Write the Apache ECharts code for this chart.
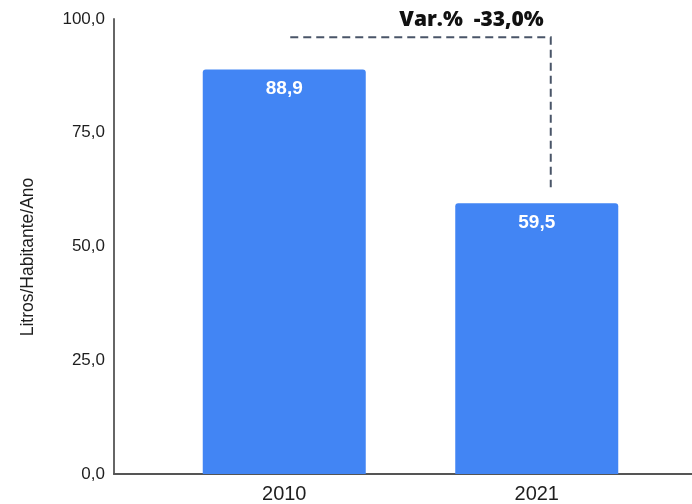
<!DOCTYPE html>
<html>
<head>
<meta charset="utf-8">
<script src="https://cdn.jsdelivr.net/npm/echarts@6/dist/echarts.min.js"></script>
<style>
  html, body { margin: 0; padding: 0; background: #ffffff; }
  #chart { width: 692px; height: 504px; }
</style>
</head>
<body>
<div id="chart"></div>
<script>
// Consumo per capita (litros por habitante por ano)
const years = ['2010', '2021'];
const litros = [88.9, 59.5];
const yTicks = [0, 25, 50, 75, 100];
const variacaoTexto = 'Var.%  -33,0%';
const nivelAnotacao = 96;   // altura da linha tracejada, em litros
const fimAnotacao = 63;     // ponta inferior da linha vertical

const fmt = v => v.toFixed(1).replace('.', ',');
const fontBase = '"Liberation Sans", Arial, Helvetica, sans-serif';

const chart = echarts.init(document.getElementById('chart'), null, { renderer: 'canvas' });

const option = {
  backgroundColor: '#ffffff',
  animation: false,
  grid: [
    // frame with axes
    { left: 114, right: 0, top: 19, bottom: 30 },
    // bars
    { left: 158, width: 505, top: 19, bottom: 30 }
  ],
  xAxis: [
    {
      gridIndex: 0, type: 'category', data: [''],
      axisLine: { show: true, lineStyle: { color: '#555555', width: 2 } },
      axisTick: { show: false }, axisLabel: { show: false }, splitLine: { show: false }
    },
    {
      gridIndex: 1, type: 'category', data: years,
      axisLine: { show: false }, axisTick: { show: false },
      axisLabel: { color: '#1e1e1e', fontSize: 20, fontFamily: fontBase, margin: 10 }
    }
  ],
  yAxis: [
    {
      gridIndex: 0, type: 'value', min: yTicks[0], max: yTicks[yTicks.length - 1], interval: 25,
      name: 'Litros/Habitante/Ano', nameLocation: 'middle', nameGap: 77,
      nameTextStyle: { color: '#1e1e1e', fontSize: 17.5, fontFamily: fontBase, padding: [0, 21, 0, 0] },
      axisLine: { show: true, lineStyle: { color: '#666666', width: 2 } },
      axisTick: { show: false }, splitLine: { show: false },
      axisLabel: { color: '#1e1e1e', fontSize: 17, fontFamily: fontBase, margin: 9, formatter: v => fmt(v) }
    },
    {
      gridIndex: 1, type: 'value', min: yTicks[0], max: yTicks[yTicks.length - 1], show: false
    }
  ],
  series: [
    {
      type: 'bar', xAxisIndex: 1, yAxisIndex: 1,
      data: litros,
      barWidth: 163,
      itemStyle: { color: '#4285f4', borderRadius: [3, 3, 0, 0] },
      label: {
        show: true, position: 'insideTop', distance: 10,
        color: '#ffffff', fontWeight: 'bold', fontSize: 19, fontFamily: fontBase,
        formatter: p => fmt(p.value)
      }
    }
  ]
};

chart.setOption(option);

// dashed comparison line and variation text, placed from the data
function drawAnnotation() {
  const pA = chart.convertToPixel({ xAxisIndex: 1, yAxisIndex: 1 }, [years[0], nivelAnotacao]);
  const pB = chart.convertToPixel({ xAxisIndex: 1, yAxisIndex: 1 }, [years[1], nivelAnotacao]);
  const pC = chart.convertToPixel({ xAxisIndex: 1, yAxisIndex: 1 }, [years[1], fimAnotacao]);
  const xStart = pA[0] + 6;
  const xEnd = pB[0] + 14;
  chart.setOption({
    graphic: [
      {
        type: 'polyline', silent: true,
        shape: { points: [[xStart, pA[1]], [xEnd, pB[1]], [xEnd, pC[1]]] },
        style: { stroke: '#4a5568', lineWidth: 2, lineDash: [8, 5], fill: null }
      },
      {
        type: 'text', silent: true,
        x: xEnd - 7, y: pA[1] - 17,
        style: {
          text: variacaoTexto, align: 'right', verticalAlign: 'middle',
          fill: '#111111', font: '800 21px "Open Sans", "Liberation Sans", Arial, sans-serif'
        }
      }
    ]
  });
}
drawAnnotation();
</script>
</body>
</html>
